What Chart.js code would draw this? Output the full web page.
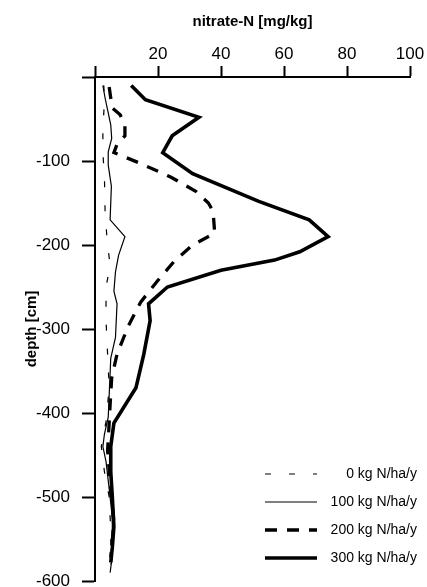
<!DOCTYPE html>
<html>
<head>
<meta charset="utf-8">
<script src="https://cdn.jsdelivr.net/npm/chart.js@4.4.0/dist/chart.umd.min.js"></script>
<style>
  html, body { margin: 0; padding: 0; background: #fff; }
</style>
</head>
<body>
<canvas id="profileChart" width="427" height="587"></canvas>
<script>
// nitrate-N profiles, one pair of arrays per fertiliser rate
const seriesLabels = ['0 kg N/ha/y', '100 kg N/ha/y', '200 kg N/ha/y', '300 kg N/ha/y'];

const depth0 = [-10, -30, -60, -90, -120, -160, -192, -225, -250, -290, -330, -370, -410, -440, -470, -500, -540, -580];
const nitrate0 = [2.8, 3, 2.5, 2.5, 3, 3.2, 3.8, 4.8, 3.5, 3.5, 4, 4.5, 3.5, 2, 3, 4.5, 5, 5];

const depth100 = [-10, -25, -41, -57, -73, -89, -105, -130, -170, -190, -212, -232, -255, -270, -310, -335, -405, -425, -440, -458, -490, -525, -570, -590];
const nitrate100 = [2.5, 3.2, 4.1, 5, 5.3, 4.2, 4.2, 5.2, 4.8, 9.5, 7.5, 6.5, 6, 7, 6.5, 5, 4.2, 3, 2.5, 3.5, 4.5, 5.5, 5.5, 4.8];

const depth200 = [-12, -25, -37, -45, -58, -70, -80, -90, -103, -119, -136, -150, -160, -186, -200, -220, -242, -268, -297, -330, -358, -390, -412, -445, -490, -530, -572];
const nitrate200 = [4.5, 5, 5.5, 8, 9.5, 9.5, 7, 6, 14.5, 24, 32, 36, 37.5, 38, 31, 25, 20, 14.5, 10.5, 7, 5.3, 4.8, 4.5, 4, 5, 6, 5];

const depth300 = [-10, -27, -48, -70, -90, -115, -148, -170, -190, -208, -218, -230, -250, -270, -290, -330, -370, -412, -440, -470, -500, -535, -560, -578];
const nitrate300 = [11.5, 16, 33, 24.5, 21.5, 31, 52, 68, 74, 65, 57, 40, 23, 17, 17.5, 15.5, 13, 6, 5, 5, 5.5, 6, 5.5, 5];

const xRange = [0, 100];
const yRange = [-600, 0];

const toPoints = (xs, ys) => xs.map((x, i) => ({ x: x, y: ys[i] }));

const lineStyles = [
  { width: 1.2, dash: [6, 18] },
  { width: 1.2, dash: [] },
  { width: 3.3, dash: [12, 10] },
  { width: 3.6, dash: [] }
];

const profiles = [
  toPoints(nitrate0, depth0),
  toPoints(nitrate100, depth100),
  toPoints(nitrate200, depth200),
  toPoints(nitrate300, depth300)
];

// legend drawn by hand: line sample left, text right-aligned
const profileLegend = {
  id: 'profileLegend',
  afterDraw(chart) {
    const ctx = chart.ctx;
    ctx.save();
    ctx.font = '14px "Liberation Sans", Arial, sans-serif';
    ctx.fillStyle = '#000';
    ctx.textAlign = 'right';
    ctx.textBaseline = 'middle';
    chart.data.datasets.forEach((ds, i) => {
      const y = 474 + i * 28;
      ctx.beginPath();
      ctx.lineWidth = ds.borderWidth;
      ctx.strokeStyle = '#000';
      ctx.setLineDash(ds.borderDash || []);
      ctx.moveTo(265, y);
      ctx.lineTo(317, y);
      ctx.stroke();
      ctx.setLineDash([]);
      ctx.fillText(ds.label, 417, y);
    });
    ctx.restore();
  }
};

new Chart(document.getElementById('profileChart'), {
  type: 'scatter',
  data: {
    datasets: profiles.map((pts, i) => ({
      label: seriesLabels[i],
      data: pts,
      showLine: true,
      borderColor: '#000',
      backgroundColor: '#000',
      borderWidth: lineStyles[i].width,
      borderDash: lineStyles[i].dash,
      pointRadius: 0,
      tension: 0
    }))
  },
  options: {
    responsive: false,
    animation: false,
    layout: { padding: { left: 0, top: 0, right: 17, bottom: 6 } },
    plugins: {
      legend: { display: false },
      tooltip: { enabled: false }
    },
    scales: {
      x: {
        type: 'linear',
        position: 'top',
        min: xRange[0],
        max: xRange[1],
        ticks: {
          stepSize: 20,
          color: '#000',
          padding: 1,
          maxRotation: 0,
          font: { family: '"Liberation Sans", Arial, sans-serif', size: 17 },
          callback: v => (v === 0 ? '' : String(v))
        },
        grid: { drawOnChartArea: false, drawTicks: true, tickLength: 11, tickWidth: 2, tickColor: '#000' },
        border: { display: true, width: 2, color: '#000' },
        title: {
          display: true,
          text: 'nitrate-N [mg/kg]',
          color: '#000',
          font: { family: '"Liberation Sans", Arial, sans-serif', size: 15, weight: 'bold' },
          padding: { top: 13, bottom: 0 }
        },
        afterFit(scale) {
          scale.height = 77;
          scale.paddingLeft = 0;
          scale.paddingRight = 0;
        }
      },
      y: {
        type: 'linear',
        min: yRange[0],
        max: yRange[1],
        ticks: {
          stepSize: 100,
          color: '#000',
          padding: 12,
          font: { family: '"Liberation Sans", Arial, sans-serif', size: 17 },
          callback: v => (v === 0 ? '' : String(v))
        },
        grid: { drawOnChartArea: false, drawTicks: true, tickLength: 13, tickWidth: 2, tickColor: '#000' },
        border: { display: true, width: 2, color: '#000' },
        title: {
          display: true,
          text: 'depth [cm]',
          color: '#000',
          font: { family: '"Liberation Sans", Arial, sans-serif', size: 15, weight: 'bold' },
          padding: { top: 23, bottom: 0 }
        },
        afterFit(scale) {
          scale.width = 95;
          scale.paddingTop = 0;
          scale.paddingBottom = 0;
        }
      }
    }
  },
  plugins: [profileLegend]
});
</script>
</body>
</html>
